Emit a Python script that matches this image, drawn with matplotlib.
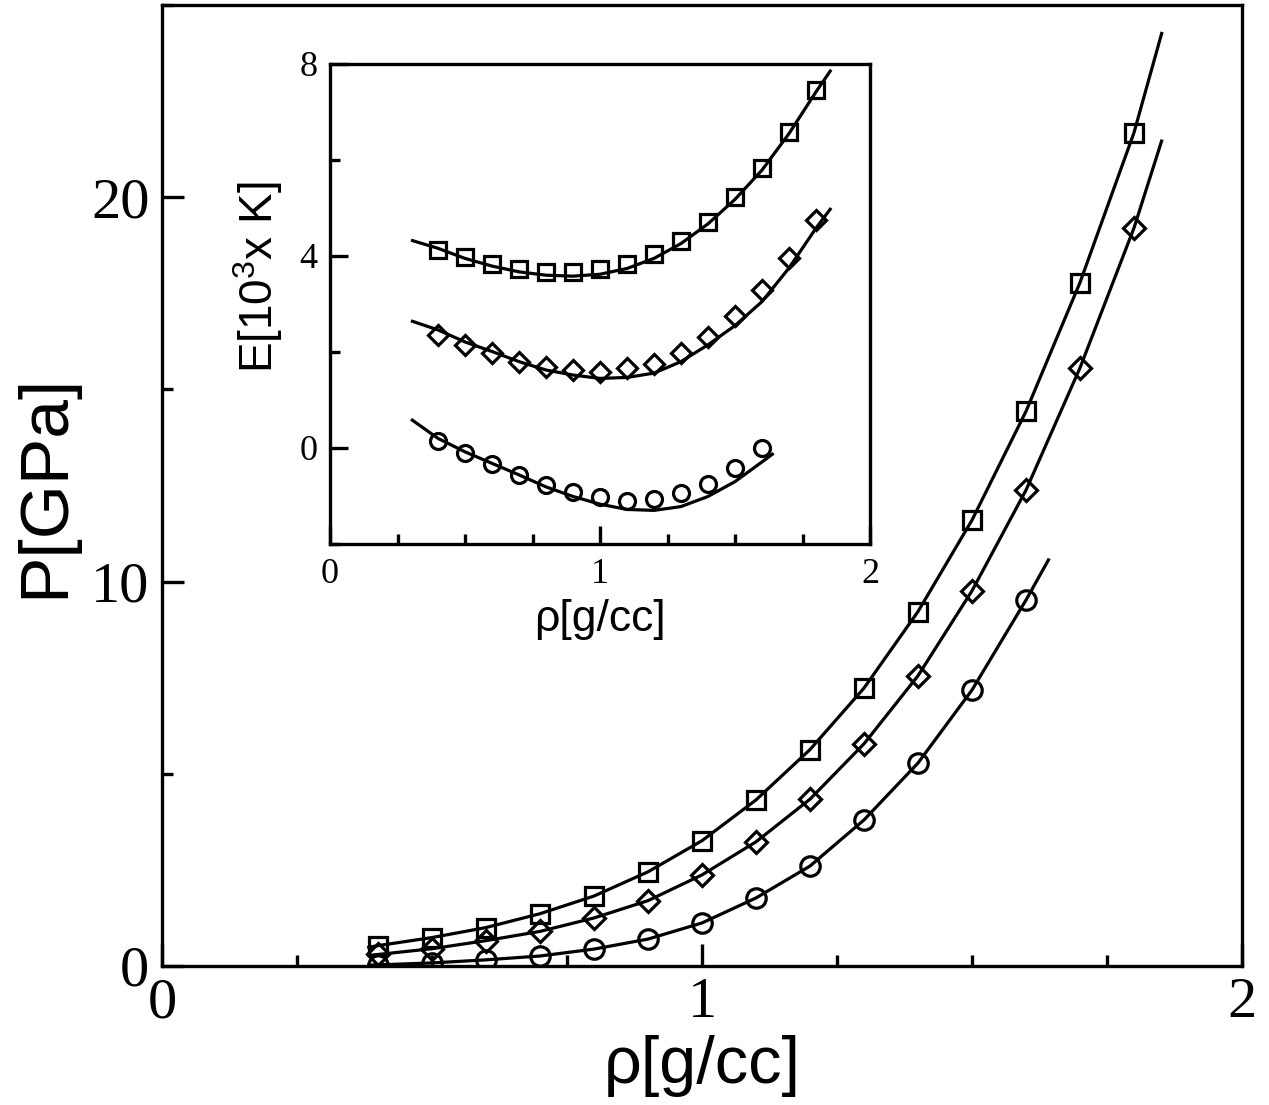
import matplotlib
matplotlib.use("Agg")
import matplotlib.pyplot as plt
from matplotlib.ticker import MultipleLocator

# ---------------- data ----------------
# main panel: pressure vs density
rho_pts = [0.4, 0.5, 0.6, 0.7, 0.8, 0.9, 1.0, 1.1, 1.2, 1.3, 1.4, 1.5, 1.6, 1.7, 1.8]
P_square = [0.53, 0.74, 1.0, 1.36, 1.82, 2.45, 3.26, 4.32, 5.63, 7.23, 9.22, 11.6, 14.43, 17.78, 21.68]
P_diamond = [0.30, 0.45, 0.66, 0.90, 1.25, 1.70, 2.37, 3.23, 4.34, 5.78, 7.55, 9.76, 12.38, 15.56, 19.2]
rho_circ = [0.4, 0.5, 0.6, 0.7, 0.8, 0.9, 1.0, 1.1, 1.2, 1.3, 1.4, 1.5, 1.6]
P_circle = [0.03, 0.08, 0.16, 0.26, 0.44, 0.70, 1.12, 1.77, 2.6, 3.8, 5.28, 7.18, 9.52]

# main panel fit curves
fit_rho_sq = [0.38, 0.4, 0.5, 0.6, 0.7, 0.8, 0.9, 1.0, 1.1, 1.2, 1.3, 1.4, 1.5, 1.6, 1.7, 1.8, 1.852]
fit_P_sq = [0.48, 0.53, 0.74, 1.0, 1.36, 1.82, 2.45, 3.26, 4.32, 5.63, 7.23, 9.22, 11.6, 14.43, 17.78, 21.68, 24.3]
fit_rho_di = [0.38, 0.4, 0.5, 0.6, 0.7, 0.8, 0.9, 1.0, 1.1, 1.2, 1.3, 1.4, 1.5, 1.6, 1.7, 1.8, 1.852]
fit_P_di = [0.27, 0.30, 0.45, 0.66, 0.90, 1.25, 1.70, 2.37, 3.23, 4.34, 5.78, 7.55, 9.76, 12.38, 15.56, 19.2, 21.5]
fit_rho_ci = [0.38, 0.4, 0.5, 0.6, 0.7, 0.8, 0.9, 1.0, 1.1, 1.2, 1.3, 1.4, 1.5, 1.6, 1.643]
fit_P_ci = [0.02, 0.03, 0.08, 0.16, 0.26, 0.44, 0.70, 1.12, 1.77, 2.6, 3.8, 5.28, 7.18, 9.52, 10.6]

# inset: energy vs density
E_square = [4.13, 3.97, 3.83, 3.72, 3.67, 3.66, 3.72, 3.83, 4.04, 4.32, 4.70, 5.22, 5.83, 6.58, 7.46]
E_diamond = [2.35, 2.15, 1.97, 1.80, 1.69, 1.625, 1.59, 1.66, 1.76, 1.97, 2.31, 2.74, 3.29, 3.95, 4.76]
E_circle = [0.15, -0.10, -0.34, -0.56, -0.77, -0.92, -1.03, -1.10, -1.07, -0.94, -0.75, -0.42, 0.01]

fit_rho_in = [0.3, 0.4, 0.5, 0.6, 0.7, 0.8, 0.9, 1.0, 1.1, 1.2, 1.3, 1.4, 1.5, 1.6, 1.7, 1.8, 1.856]
fit_E_sq = [4.33, 4.16, 3.95, 3.79, 3.67, 3.60, 3.58, 3.62, 3.74, 3.95, 4.26, 4.67, 5.18, 5.79, 6.55, 7.42, 7.88]
fit_E_di = [2.65, 2.46, 2.21, 2.01, 1.80, 1.625, 1.52, 1.45, 1.47, 1.56, 1.80, 2.15, 2.55, 3.05, 3.75, 4.58, 5.0]
fit_rho_in_ci = [0.3, 0.4, 0.5, 0.6, 0.7, 0.8, 0.9, 1.0, 1.1, 1.2, 1.3, 1.4, 1.5, 1.6, 1.643]
fit_E_ci = [0.60, 0.20, -0.08, -0.32, -0.56, -0.81, -1.01, -1.17, -1.28, -1.30, -1.22, -1.01, -0.70, -0.29, -0.11]

main_xticks = [0, 1, 2]
main_yticks = [0, 10, 20]
inset_xticks = [0, 1, 2]
inset_yticks = [0, 4, 8]

# ---------------- styling ----------------
plt.rcParams['mathtext.fontset'] = 'custom'
plt.rcParams['mathtext.rm'] = 'Liberation Sans'
plt.rcParams['mathtext.it'] = 'Liberation Sans'
plt.rcParams['mathtext.bf'] = 'Liberation Sans'

SERIF = 'Liberation Serif'
SANS = 'Liberation Sans'
LW = 2.3
FRAME = 2.4

fig = plt.figure(figsize=(12.69, 11.05), dpi=100)
ax = fig.add_axes([162/1269, 1 - 966/1105, 1080/1269, 961/1105])

line_kw = dict(color='black', lw=LW, solid_capstyle='butt')
mk_kw = dict(ls='none', color='black', mfc='none', mew=LW)

ax.plot(fit_rho_sq, fit_P_sq, **line_kw)
ax.plot(fit_rho_di, fit_P_di, **line_kw)
ax.plot(fit_rho_ci, fit_P_ci, **line_kw)
ax.plot(rho_pts, P_square, marker='s', ms=13, **mk_kw)
ax.plot(rho_pts, P_diamond, marker='D', ms=11.5, **mk_kw)
ax.plot(rho_circ, P_circle, marker='o', ms=14, **mk_kw)

ax.set_xlim(0, 2)
ax.set_ylim(0, 25)
ax.set_xticks(main_xticks)
ax.set_yticks(main_yticks)
ax.xaxis.set_minor_locator(MultipleLocator(0.25))
ax.yaxis.set_minor_locator(MultipleLocator(5))
ax.tick_params(which='both', direction='in', top=False, right=False, width=FRAME)
ax.tick_params(which='major', length=16)
ax.tick_params(which='minor', length=8)
ax.tick_params(axis='x', which='major', pad=8)
ax.tick_params(axis='y', which='major', pad=9)
for lab in ax.get_xticklabels() + ax.get_yticklabels():
    lab.set_fontfamily(SERIF)
    lab.set_fontsize(42)
for s in ax.spines.values():
    s.set_linewidth(FRAME)
ax.set_xlabel('ρ[g/cc]', fontfamily=SANS, fontsize=48, labelpad=4)
ax.set_ylabel('P[GPa]', fontfamily=SANS, fontsize=50, labelpad=10)

# ---------------- inset ----------------
ins = fig.add_axes([330/1269, 1 - 544/1105, 540/1269, 480/1105])
ins.plot(fit_rho_in, fit_E_sq, **line_kw)
ins.plot(fit_rho_in, fit_E_di, **line_kw)
ins.plot(fit_rho_in_ci, fit_E_ci, **line_kw)
ins.plot(rho_pts, E_square, marker='s', ms=11, **mk_kw)
ins.plot(rho_pts, E_diamond, marker='D', ms=10, **mk_kw)
ins.plot(rho_circ, E_circle, marker='o', ms=11.5, **mk_kw)

ins.set_xlim(0, 2)
ins.set_ylim(-2, 8)
ins.set_xticks(inset_xticks)
ins.set_yticks(inset_yticks)
ins.xaxis.set_minor_locator(MultipleLocator(0.25))
ins.yaxis.set_minor_locator(MultipleLocator(2))
ins.tick_params(which='both', direction='in', top=False, right=False, width=FRAME)
ins.tick_params(which='major', length=13)
ins.tick_params(which='minor', length=7)
ins.tick_params(axis='x', which='major', pad=10)
ins.tick_params(axis='y', which='major', pad=9)
for lab in ins.get_xticklabels() + ins.get_yticklabels():
    lab.set_fontfamily(SERIF)
    lab.set_fontsize(26)
for s in ins.spines.values():
    s.set_linewidth(FRAME)
ins.set_xlabel('ρ[g/cc]', fontfamily=SANS, fontsize=32, labelpad=6)
ins.set_ylabel(r'E[10$^{3}$x K]', fontfamily=SANS, fontsize=33)
ins.yaxis.set_label_coords(-0.083, 0.555)

fig.savefig('out.png', dpi=100)
